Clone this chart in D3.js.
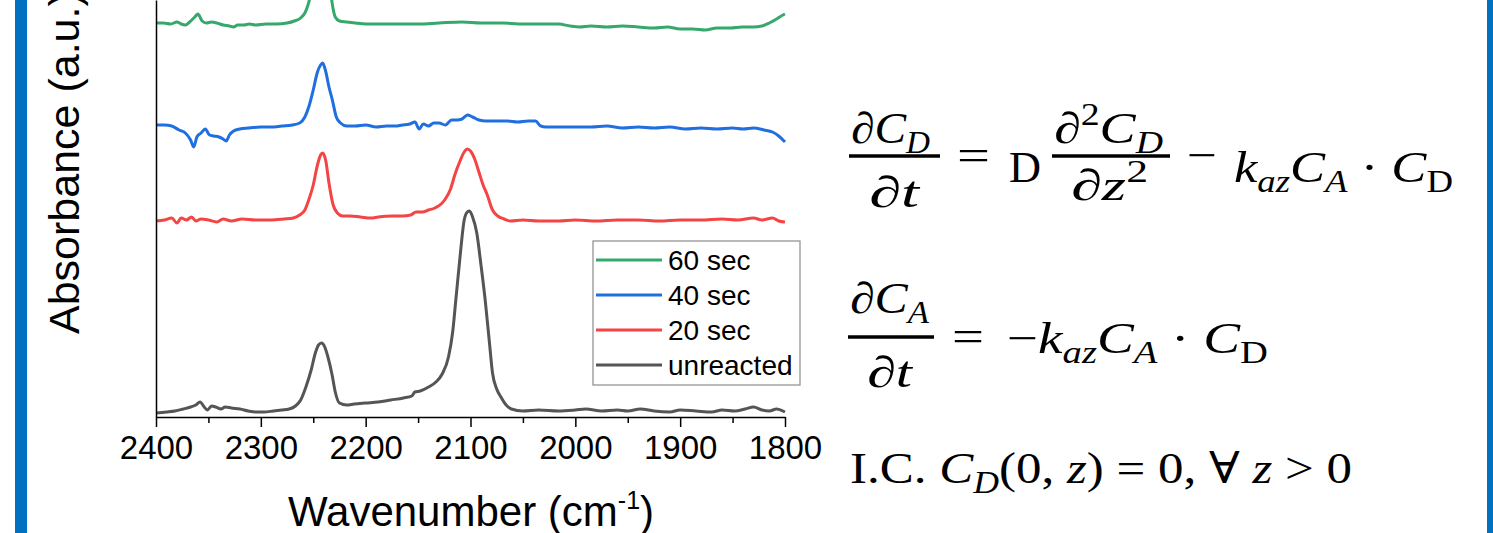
<!DOCTYPE html>
<html>
<head>
<meta charset="utf-8">
<script src="https://cdn.jsdelivr.net/npm/d3@7"></script>
<style>
  body { margin: 0; background: #fff; }
  svg { display: block; }
</style>
</head>
<body>
<svg id="chart" width="1493" height="533"></svg>
<script>
// legend names and colours, top row first
let seriesNames = ["60 sec", "40 sec", "20 sec", "unreacted"];
let seriesColors = ["#35a96c", "#1f6fe0", "#f44444", "#555555"];

// x axis ticks (cm-1)
let majorTicks = [2400, 2300, 2200, 2100, 2000, 1900, 1800];
let minorTicks = [2350, 2250, 2150, 2050, 1950, 1850];

// spectra [wavenumber, absorbance (stacked, a.u.)]
let unreacted = [
  [2400, 0.004], [2390, 0.005], [2382, 0.006], [2374, 0.008], [2367, 0.010], [2362, 0.012],
  [2358, 0.015], [2354, 0.010], [2351, 0.007], [2347, 0.011], [2343, 0.010], [2338, 0.008],
  [2334, 0.010], [2328, 0.009], [2320, 0.008], [2312, 0.006], [2305, 0.005], [2297, 0.005],
  [2288, 0.006], [2280, 0.007], [2273, 0.008], [2267, 0.011], [2262, 0.017], [2257, 0.030],
  [2252, 0.047], [2248, 0.064], [2245, 0.072], [2242, 0.074], [2239, 0.070], [2236, 0.060],
  [2232, 0.042], [2229, 0.025], [2225, 0.014], [2218, 0.012], [2211, 0.013], [2200, 0.014],
  [2188, 0.015], [2176, 0.017], [2164, 0.019], [2156, 0.021], [2153, 0.025], [2148, 0.026],
  [2140, 0.030], [2133, 0.035], [2127, 0.043], [2121, 0.060], [2117, 0.085], [2114, 0.117],
  [2110, 0.160], [2106, 0.197], [2103, 0.205], [2101, 0.206], [2098, 0.200], [2094, 0.184],
  [2090, 0.152], [2086, 0.117], [2082, 0.075], [2079, 0.044], [2075, 0.028], [2071, 0.020],
  [2066, 0.012], [2061, 0.008], [2050, 0.006], [2035, 0.007], [2016, 0.006], [2000, 0.007],
  [1990, 0.008], [1975, 0.006], [1960, 0.007], [1950, 0.006], [1938, 0.008], [1925, 0.006],
  [1910, 0.005], [1900, 0.007], [1885, 0.006], [1870, 0.005], [1860, 0.007], [1848, 0.006],
  [1838, 0.008], [1830, 0.010], [1822, 0.007], [1815, 0.006], [1808, 0.008], [1802, 0.006],
  [1800, 0.005]
];

let sec20 = [
  [2400, 0.196], [2392, 0.197], [2385, 0.199], [2380, 0.194], [2376, 0.199], [2371, 0.197],
  [2366, 0.200], [2362, 0.196], [2357, 0.198], [2350, 0.197], [2342, 0.195], [2336, 0.198],
  [2328, 0.196], [2318, 0.198], [2305, 0.197], [2290, 0.197], [2278, 0.198], [2269, 0.199],
  [2263, 0.202], [2258, 0.207], [2254, 0.218], [2250, 0.232], [2246, 0.252], [2243, 0.262],
  [2241, 0.264], [2238, 0.256], [2235, 0.234], [2231, 0.212], [2227, 0.204], [2222, 0.201],
  [2215, 0.201], [2205, 0.200], [2195, 0.199], [2188, 0.200], [2175, 0.201], [2165, 0.201],
  [2157, 0.202], [2152, 0.205], [2146, 0.205], [2140, 0.207], [2134, 0.209], [2128, 0.213],
  [2124, 0.218], [2119, 0.228], [2115, 0.242], [2110, 0.256], [2106, 0.265], [2103, 0.268],
  [2100, 0.266], [2096, 0.258], [2092, 0.245], [2088, 0.232], [2084, 0.222], [2079, 0.207],
  [2074, 0.201], [2068, 0.198], [2062, 0.196], [2050, 0.197], [2035, 0.196], [2016, 0.196],
  [2000, 0.197], [1980, 0.196], [1960, 0.197], [1940, 0.197], [1920, 0.196], [1900, 0.197],
  [1880, 0.197], [1860, 0.198], [1845, 0.197], [1830, 0.199], [1822, 0.197], [1812, 0.199],
  [1806, 0.196], [1800, 0.195]
];

let sec40 = [
  [2400, 0.292], [2392, 0.292], [2385, 0.291], [2378, 0.287], [2372, 0.284], [2367, 0.277],
  [2364, 0.270], [2361, 0.280], [2357, 0.284], [2353, 0.288], [2349, 0.282], [2345, 0.281],
  [2340, 0.280], [2336, 0.278], [2333, 0.276], [2330, 0.282], [2326, 0.286], [2320, 0.288],
  [2312, 0.289], [2300, 0.290], [2290, 0.290], [2280, 0.291], [2270, 0.292], [2263, 0.294],
  [2258, 0.300], [2254, 0.311], [2250, 0.327], [2246, 0.345], [2243, 0.352], [2241, 0.354],
  [2238, 0.345], [2235, 0.330], [2232, 0.318], [2228, 0.300], [2224, 0.294], [2218, 0.291],
  [2210, 0.291], [2200, 0.292], [2190, 0.290], [2180, 0.291], [2172, 0.291], [2165, 0.292],
  [2158, 0.293], [2153, 0.295], [2149, 0.288], [2145, 0.293], [2140, 0.291], [2135, 0.294],
  [2130, 0.294], [2124, 0.292], [2118, 0.297], [2113, 0.297], [2108, 0.298], [2103, 0.302],
  [2098, 0.300], [2092, 0.297], [2085, 0.296], [2075, 0.296], [2065, 0.296], [2055, 0.295],
  [2045, 0.296], [2038, 0.296], [2033, 0.291], [2028, 0.290], [2015, 0.290], [2000, 0.290],
  [1985, 0.290], [1970, 0.291], [1955, 0.289], [1940, 0.290], [1925, 0.289], [1910, 0.290],
  [1895, 0.288], [1880, 0.289], [1865, 0.288], [1850, 0.289], [1840, 0.288], [1830, 0.289],
  [1820, 0.287], [1812, 0.285], [1806, 0.281], [1800, 0.275]
];

let sec60 = [
  [2400, 0.394], [2393, 0.394], [2386, 0.393], [2380, 0.395], [2376, 0.393], [2372, 0.392],
  [2368, 0.395], [2363, 0.400], [2360, 0.403], [2356, 0.396], [2352, 0.394], [2347, 0.395],
  [2342, 0.394], [2336, 0.392], [2330, 0.391], [2326, 0.390], [2322, 0.392], [2316, 0.392],
  [2311, 0.393], [2305, 0.392], [2295, 0.393], [2285, 0.393], [2275, 0.394], [2268, 0.396],
  [2262, 0.399], [2258, 0.404], [2255, 0.412], [2251, 0.430], [2247, 0.455], [2244, 0.468],
  [2241, 0.472], [2238, 0.462], [2235, 0.440], [2232, 0.414], [2229, 0.400], [2225, 0.396],
  [2218, 0.395], [2210, 0.394], [2200, 0.393], [2190, 0.393], [2170, 0.393], [2150, 0.393],
  [2130, 0.394], [2108, 0.395], [2090, 0.394], [2070, 0.394], [2050, 0.393], [2030, 0.393],
  [2016, 0.393], [2005, 0.391], [1996, 0.390], [1985, 0.391], [1970, 0.390], [1955, 0.391],
  [1940, 0.390], [1925, 0.389], [1912, 0.390], [1900, 0.388], [1888, 0.388], [1876, 0.387],
  [1865, 0.389], [1852, 0.389], [1841, 0.390], [1830, 0.390], [1822, 0.391], [1815, 0.394],
  [1808, 0.398], [1802, 0.402], [1800, 0.403]
];

let spectra = [sec60, sec40, sec20, unreacted];

let svg = d3.select("#chart");

// blue frame bands
svg.append("rect").attr("x", 15).attr("y", 0).attr("width", 12).attr("height", 533).attr("fill", "#0070c0");
svg.append("rect").attr("x", 1487).attr("y", 0).attr("width", 6).attr("height", 533).attr("fill", "#0070c0");

// scales
let x = d3.scaleLinear().domain([2400, 1800]).range([156, 785]);
let y = d3.scaleLinear().domain([0, 0.417]).range([417, 0]);

let line = d3.line()
  .x((d) => x(d[0]))
  .y((d) => y(d[1]))
  .curve(d3.curveMonotoneX);

// spectra, bottom one drawn last
svg.append("g")
  .selectAll("path")
  .data(spectra)
  .enter()
  .append("path")
  .attr("d", line)
  .attr("fill", "none")
  .attr("stroke", (d, i) => seriesColors[i])
  .attr("stroke-width", 3)
  .attr("stroke-linejoin", "round");

// x axis, major then minor ticks
let xAxis = svg.append("g")
  .attr("transform", "translate(0,417)")
  .call(d3.axisBottom(x).tickValues(majorTicks).tickSize(10).tickSizeOuter(0).tickPadding(9).tickFormat(d3.format("d")));
svg.append("g")
  .attr("transform", "translate(0,417)")
  .call(d3.axisBottom(x).tickValues(minorTicks).tickSize(6).tickSizeOuter(0).tickFormat(""))
  .select(".domain").remove();

xAxis.selectAll("text")
  .attr("font-family", "'Liberation Sans', Arial, sans-serif")
  .attr("font-size", 33)
  .attr("fill", "#000");

svg.selectAll(".tick line").attr("stroke", "#000").attr("stroke-width", 1.5);
xAxis.select(".domain").attr("stroke", "#000").attr("stroke-width", 1.5);

// y axis, line only
svg.append("g")
  .attr("transform", "translate(156,0)")
  .call(d3.axisLeft(y).tickValues([]).tickSizeOuter(0))
  .select(".domain").attr("stroke", "#000").attr("stroke-width", 1.5);

// axis titles
let xTitle = svg.append("text")
  .attr("x", 471)
  .attr("y", 526)
  .attr("text-anchor", "middle")
  .attr("font-family", "'Liberation Sans', Arial, sans-serif")
  .attr("font-size", 42)
  .attr("fill", "#000");
xTitle.append("tspan").text("Wavenumber (cm");
xTitle.append("tspan").attr("font-size", 25).attr("dy", -17).text("-1");
xTitle.append("tspan").attr("dy", 17).text(")");

svg.append("text")
  .attr("transform", "translate(79,334) rotate(-90)")
  .attr("font-family", "'Liberation Sans', Arial, sans-serif")
  .attr("font-size", 43)
  .attr("fill", "#000")
  .text("Absorbance (a.u.)");

// legend
let legend = svg.append("g");
legend.append("rect")
  .attr("x", 593).attr("y", 241).attr("width", 207).attr("height", 144)
  .attr("fill", "#fff").attr("stroke", "#8c8c8c").attr("stroke-width", 1.2);

let rows = legend.selectAll("g.row")
  .data(seriesNames)
  .enter()
  .append("g")
  .attr("class", "row")
  .attr("transform", (d, i) => "translate(0," + (260 + i * 35) + ")");

rows.append("line")
  .attr("x1", 596).attr("x2", 662)
  .attr("stroke", (d, i) => seriesColors[i])
  .attr("stroke-width", 3);

rows.append("text")
  .attr("x", 668)
  .attr("y", 10)
  .attr("font-family", "'Liberation Sans', Arial, sans-serif")
  .attr("font-size", 28)
  .attr("fill", "#000")
  .text((d) => d);

// equations
let mathFont = "'Liberation Serif', 'DejaVu Serif', serif";

function mathText(px, py, size, len, parts) {
  let t = svg.append("text")
    .attr("x", px).attr("y", py)
    .attr("font-family", mathFont)
    .attr("font-size", size)
    .attr("fill", "#000");
  if (len) t.attr("textLength", len).attr("lengthAdjust", "spacingAndGlyphs");
  let shift = 0;
  parts.forEach(function (p) {
    let want = p.pos == "sub" ? size * 0.22 : p.pos == "sup" ? -size * 0.4 : 0;
    let s = t.append("tspan").text(p.t).attr("dy", want - shift);
    shift = want;
    if (p.i) s.attr("font-style", "italic");
    if (p.pos) s.attr("font-size", size * 0.7);
  });
  return t;
}

function bar(x1, x2, yy) {
  svg.append("line")
    .attr("x1", x1).attr("x2", x2).attr("y1", yy).attr("y2", yy)
    .attr("stroke", "#000").attr("stroke-width", 3.5);
}

// dC_D/dt = D d2C_D/dz2 - k_az C_A . C_D
mathText(851, 143, 44, 79, [{t: "∂"}, {t: "C", i: true}, {t: "D", i: true, pos: "sub"}]);
bar(849, 940, 156);
mathText(869, 207, 44, 50, [{t: "∂"}, {t: "t", i: true}]);
mathText(957, 170, 44, 33, [{t: "="}]);
mathText(1009, 182, 44, 32, [{t: "D"}]);
mathText(1054, 143, 44, 109, [{t: "∂"}, {t: "2", pos: "sup"}, {t: "C", i: true}, {t: "D", i: true, pos: "sub"}]);
bar(1052, 1170, 156);
mathText(1071, 200, 44, 77, [{t: "∂"}, {t: "z", i: true}, {t: "2", pos: "sup"}]);
mathText(1187, 170, 44, 30, [{t: "−"}]);
mathText(1234, 182, 44, 219, [{t: "k", i: true}, {t: "az", i: true, pos: "sub"}, {t: "C", i: true},
  {t: "A", i: true, pos: "sub"}, {t: " · "}, {t: "C", i: true}, {t: "D", pos: "sub"}]);

// dC_A/dt = -k_az C_A . C_D
mathText(850, 313, 44, 79, [{t: "∂"}, {t: "C", i: true}, {t: "A", i: true, pos: "sub"}]);
bar(848, 934, 337);
mathText(867, 387, 44, 45, [{t: "∂"}, {t: "t", i: true}]);
mathText(952, 351, 44, 32, [{t: "="}]);
mathText(1007, 353, 44, 261, [{t: "−"}, {t: "k", i: true}, {t: "az", i: true, pos: "sub"}, {t: "C", i: true},
  {t: "A", i: true, pos: "sub"}, {t: " · "}, {t: "C", i: true}, {t: "D", pos: "sub"}]);

// initial condition
mathText(850, 483, 44, 502, [{t: "I.C.  "}, {t: "C", i: true}, {t: "D", i: true, pos: "sub"}, {t: "(0, "},
  {t: "z", i: true}, {t: ") = 0, ∀ "}, {t: "z", i: true}, {t: " > 0"}]);
</script>
</body>
</html>
